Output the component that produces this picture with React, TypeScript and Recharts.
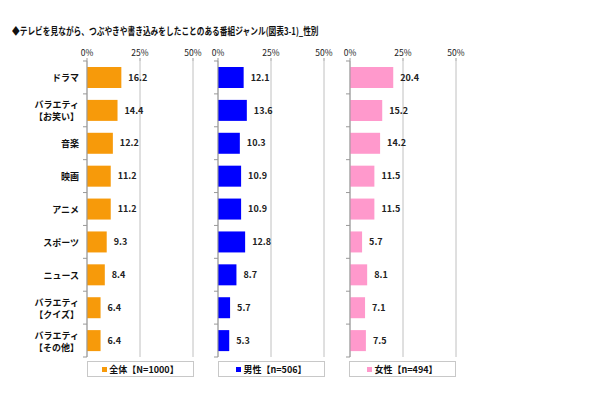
import { Bar, BarChart, CartesianGrid, LabelList, XAxis, YAxis } from 'recharts'

const categories = [
  'ドラマ',
  'バラエティ\n【お笑い】',
  '音楽',
  '映画',
  'アニメ',
  'スポーツ',
  'ニュース',
  'バラエティ\n【クイズ】',
  'バラエティ\n【その他】',
]
const totalValues = [16.2, 14.4, 12.2, 11.2, 11.2, 9.3, 8.4, 6.4, 6.4]
const maleValues = [12.1, 13.6, 10.3, 10.9, 10.9, 12.8, 8.7, 5.7, 5.3]
const femaleValues = [20.4, 15.2, 14.2, 11.5, 11.5, 5.7, 8.1, 7.1, 7.5]
const xTicks = [0, 25, 50]

const data = categories.map((name, i) => ({
  name,
  total: totalValues[i],
  male: maleValues[i],
  female: femaleValues[i],
}))

const FONT = '"Noto Sans CJK JP", "Noto Sans", sans-serif'
const HALF_BAND = 16.45

// Category label + the small boundary tick marks left of the axis line
function CategoryTick(props: any) {
  const { x, y, payload, index, showText } = props
  const axisX = x + 8
  const lines = String(payload.value).split('\n')
  return (
    <g>
      <line x1={axisX - 4} x2={axisX} y1={y - HALF_BAND} y2={y - HALF_BAND} stroke="#999" />
      {index === categories.length - 1 && (
        <line x1={axisX - 4} x2={axisX} y1={y + HALF_BAND} y2={y + HALF_BAND} stroke="#999" />
      )}
      {showText && (
        <text
          x={x}
          y={y}
          textAnchor="end"
          fontSize={9}
          fontWeight="bold"
          fill="#111"
          fontFamily={FONT}
          dominantBaseline="central"
        >
          {lines.map((l, i) => (
            <tspan key={i} x={x} dy={i === 0 ? (lines.length > 1 ? -6 : 0) : 12}>
              {l}
            </tspan>
          ))}
        </text>
      )}
    </g>
  )
}

interface PanelProps {
  left: number
  width: number
  yWidth: number
  rightMargin: number
  dataKey: string
  color: string
  showText: boolean
}

function Panel({ left, width, yWidth, rightMargin, dataKey, color, showText }: PanelProps) {
  return (
    <div style={{ position: 'absolute', left, top: 0 }}>
      <BarChart
        width={width}
        height={400}
        layout="vertical"
        data={data}
        margin={{ top: 41, right: rightMargin, bottom: 43, left: 0 }}
      >
        <CartesianGrid horizontal={false} stroke="#C0C0C0" />
        <XAxis
          type="number"
          orientation="top"
          domain={[0, 50]}
          ticks={xTicks}
          tickFormatter={v => `${v}%`}
          height={20}
          axisLine={false}
          tickSize={3}
          tickMargin={2}
          tickLine={{ stroke: '#999' }}
          tick={{ fontSize: 8.5, fill: '#222', fontFamily: FONT }}
          interval={0}
        />
        <YAxis
          type="category"
          dataKey="name"
          width={yWidth}
          axisLine={{ stroke: '#999' }}
          tickLine={false}
          tickSize={6}
          tickMargin={2}
          interval={0}
          tick={<CategoryTick showText={showText} />}
        />
        <Bar dataKey={dataKey} fill={color} barSize={21} isAnimationActive={false}>
          <LabelList
            dataKey={dataKey}
            position="right"
            offset={7}
            formatter={(v: any) => Number(v).toFixed(1)}
            style={{ fontSize: 9, fontWeight: 'bold', fill: '#222', fontFamily: FONT }}
          />
        </Bar>
      </BarChart>
    </div>
  )
}

function LegendBox({ left, color, label, n }: { left: number; color: string; label: string; n: string }) {
  return (
    <div
      style={{
        position: 'absolute',
        left,
        top: 361,
        width: 105,
        height: 14,
        border: '1px solid #C8C8C8',
        display: 'flex',
        alignItems: 'center',
        justifyContent: 'center',
        fontFamily: FONT,
        fontSize: 9,
        fontWeight: 'bold',
        color: '#111',
        background: '#fff',
      }}
    >
      <span style={{ display: 'inline-block', width: 5, height: 5, background: color, marginRight: 2 }} />
      {label}
      <span>【{n}】</span>
    </div>
  )
}

export default function App() {
  return (
    <div
      style={{
        position: 'fixed',
        left: 0,
        top: 0,
        width: 610,
        height: 400,
        background: '#fff',
        overflow: 'hidden',
      }}
    >
      <div
        style={{
          position: 'absolute',
          left: 12,
          top: 23,
          fontFamily: FONT,
          fontSize: 10,
          fontWeight: 'bold',
          color: '#111',
          whiteSpace: 'nowrap',
          transform: 'scaleX(0.77)',
          transformOrigin: 'left center',
        }}
      >
        ◆テレビを見ながら、つぶやきや書き込みをしたことのある番組ジャンル(図表3-1)_性別
      </div>
      <Panel left={0} width={210} yWidth={87} rightMargin={17} dataKey="total" color="#F79A0A" showText />
      <Panel left={195} width={145} yWidth={23} rightMargin={16} dataKey="male" color="#0000FF" showText={false} />
      <Panel left={325} width={145} yWidth={25} rightMargin={14} dataKey="female" color="#FF99CC" showText={false} />
      <LegendBox left={87} color="#F79A0A" label="全体" n="N=1000" />
      <LegendBox left={218} color="#0000FF" label="男性" n="n=506" />
      <LegendBox left={349} color="#FF99CC" label="女性" n="n=494" />
    </div>
  )
}
